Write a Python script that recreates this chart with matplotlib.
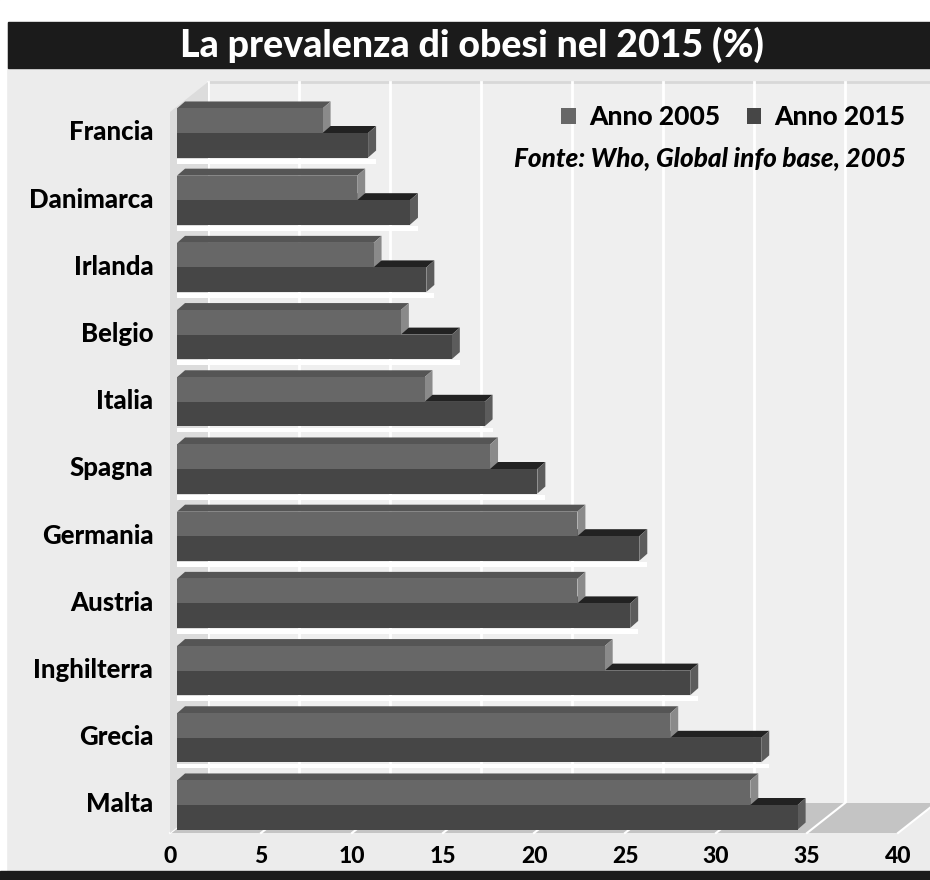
import matplotlib
matplotlib.use("Agg")
import matplotlib.pyplot as plt
from matplotlib.patches import Rectangle, Polygon
from matplotlib.transforms import ScaledTranslation
import numpy as np

plt.rcParams['font.family'] = ['Lato', 'DejaVu Sans']

# ---------------- data ----------------
categories = ["Francia", "Danimarca", "Irlanda", "Belgio", "Italia", "Spagna",
              "Germania", "Austria", "Inghilterra", "Grecia", "Malta"]
anno_2005 = [8.0, 9.9, 10.8, 12.3, 13.6, 17.2, 22.0, 22.0, 23.5, 27.1, 31.5]
anno_2015 = [10.5, 12.8, 13.7, 15.1, 16.9, 19.8, 25.4, 24.9, 28.2, 32.1, 34.1]
series_labels = ["Anno 2005", "Anno 2015"]
x_ticks = [0, 5, 10, 15, 20, 25, 30, 35, 40]
title = "La prevalenza di obesi nel 2015 (%)"
source = "Fonte: Who, Global info base, 2005"

# ---------------- style ----------------
W, H = 930, 880
BG = "#ececec"
WALL = "#efefef"
c05_front, c05_top, c05_side = "#676767", "#555555", "#8a8a8a"
c15_front, c15_top, c15_side = "#464646", "#222222", "#5c5c5c"
HEAVY = 900

fig = plt.figure(figsize=(W / 100, H / 100), dpi=100, facecolor=BG)

# frame pieces
fig.patches.append(Rectangle((0, 1 - 22 / H), 1, 22 / H, transform=fig.transFigure,
                             color="white", zorder=0))
fig.patches.append(Rectangle((0, 0), 6 / W, 1, transform=fig.transFigure,
                             color="white", zorder=0))
fig.patches.append(Rectangle((8 / W, 1 - 68 / H), 1, 46 / H, transform=fig.transFigure,
                             color="#1b1b1b", zorder=1))
fig.patches.append(Rectangle((0, 0), 1, 9 / H, transform=fig.transFigure,
                             color="#1b1b1b", zorder=1))
fig.text(472 / W, 1 - 45 / H, title, color="white", fontsize=27, fontweight=HEAVY,
         ha="center", va="center")

# axes: x 0..40 on the front plane
ax_left, ax_right = 170, 898
ax_top, ax_bot = 82, 833
ax = fig.add_axes([ax_left / W, (H - ax_bot) / H, (ax_right - ax_left) / W,
                   (ax_bot - ax_top) / H])
ax.patch.set_visible(False)
pitch = 67.2
y0pix = 133
ybot = (ax_bot - y0pix) / pitch
ytop = (ax_top - y0pix) / pitch
ax.set_xlim(0, 40)
ax.set_ylim(ybot, ytop)
for s in ax.spines.values():
    s.set_visible(False)

px_x = (ax_right - ax_left) / 40.0  # pixels per unit
dxb, dyb = 38 / px_x, 30 / pitch      # back plane offset (data units)
wall_top = (112 - y0pix) / pitch

# left wall
ax.add_patch(Polygon([(0, ybot), (0, wall_top), (dxb, wall_top - dyb), (dxb, ybot - dyb)],
                     closed=True, facecolor="#dcdcdc", edgecolor="none", clip_on=False, zorder=1))
# back wall
ax.add_patch(Polygon([(dxb, ybot - dyb), (dxb, wall_top - dyb), (45, wall_top - dyb), (45, ybot - dyb)],
                     closed=True, facecolor=WALL, edgecolor="none", clip_on=False, zorder=0.5))
ax.plot([dxb, 45], [wall_top - dyb, wall_top - dyb], color="#d8d8d8", lw=2,
        clip_on=False, zorder=0.6)
for v in x_ticks:
    ax.plot([v + dxb, v + dxb], [ybot - dyb, wall_top - dyb], color="white", lw=2,
            clip_on=False, zorder=0.7)
# floor
ax.add_patch(Polygon([(0, ybot), (40, ybot), (40 + dxb, ybot - dyb), (dxb, ybot - dyb)],
                     closed=True, facecolor="#c4c4c4", edgecolor="none", clip_on=False, zorder=0.8))
for v in x_ticks:
    ax.plot([v, v + dxb], [ybot, ybot - dyb], color="white", lw=1.5,
            clip_on=False, zorder=0.9)

# bars (set slightly back in depth)
bar_tr = ax.transData + ScaledTranslation(7 / 100, 0, fig.dpi_scale_trans)
h = 0.365
dx, dy = 8 / px_x, 7 / pitch
ypos = np.arange(len(categories))

# light reflections between rows
for i in range(len(categories) - 1):
    ax.add_patch(Rectangle((0, i + h + 0.02), anno_2015[i] + dx, 0.07, transform=bar_tr,
                           facecolor="white", edgecolor="none", zorder=1.5, clip_on=False))

b15 = ax.barh(ypos + h / 2, anno_2015, height=h, left=0, color=c15_front,
              transform=bar_tr, zorder=3, label=series_labels[1])
b05 = ax.barh(ypos - h / 2, anno_2005, height=h, left=0, color=c05_front,
              transform=bar_tr, zorder=5, label=series_labels[0])


def faces(v, ytopface, ybottom, ctop, cside, z):
    ax.add_patch(Polygon([(0, ytopface), (v, ytopface), (v + dx, ytopface - dy), (dx, ytopface - dy)],
                         closed=True, facecolor=ctop, edgecolor="none", transform=bar_tr,
                         clip_on=False, zorder=z))
    ax.add_patch(Polygon([(v, ytopface), (v, ybottom), (v + dx, ybottom - dy), (v + dx, ytopface - dy)],
                         closed=True, facecolor=cside, edgecolor="none", transform=bar_tr,
                         clip_on=False, zorder=z))


for i in range(len(categories)):
    faces(anno_2015[i], i, i + h, c15_top, c15_side, 2.9)
    faces(anno_2005[i], i - h, i, c05_top, c05_side, 4.9)

# ticks
ax.set_xticks(x_ticks)
ax.set_xticklabels([str(t) for t in x_ticks], fontsize=16.5, fontweight=HEAVY)
ax.set_yticks(ypos - 0.04)
ax.set_yticklabels(categories, fontsize=18.5, fontweight=HEAVY)
ax.tick_params(axis="x", length=0, pad=9)
ax.tick_params(axis="y", length=0, pad=12)

# legend
leg = fig.legend(handles=[b05, b15], labels=series_labels, loc="center right",
                 bbox_to_anchor=(908 / W, 1 - 117 / H), ncol=2, frameon=False,
                 prop={"family": "Lato", "weight": HEAVY, "size": 19},
                 handlelength=0.55, handleheight=0.55, handletextpad=0.5,
                 columnspacing=1.0, borderpad=0.1, borderaxespad=0)
fig.text(906 / W, 1 - 158 / H, source, ha="right", va="center", fontsize=18.8,
         fontweight=HEAVY, style="italic")

fig.savefig("out.png", dpi=100, facecolor=BG)
